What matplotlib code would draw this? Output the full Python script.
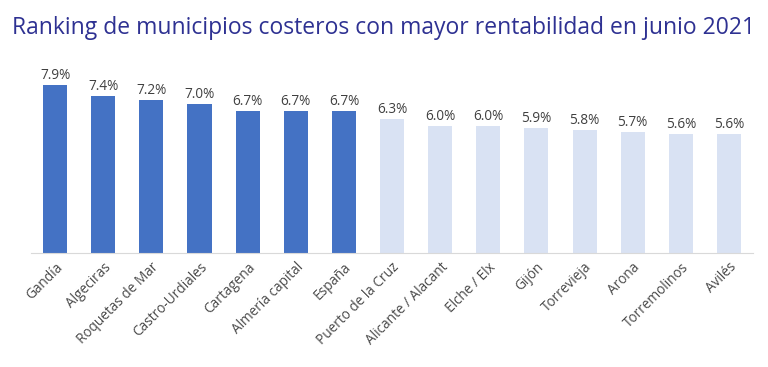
import matplotlib.pyplot as plt

municipios = ['Gandía', 'Algeciras', 'Roquetas de Mar', 'Castro-Urdiales', 'Cartagena',
              'Almería capital', 'España', 'Puerto de la Cruz', 'Alicante / Alacant',
              'Elche / Elx', 'Gijón', 'Torrevieja', 'Arona', 'Torremolinos', 'Avilés']
rentabilidad = [7.9, 7.4, 7.2, 7.0, 6.7, 6.7, 6.7, 6.3, 6.0, 6.0, 5.9, 5.8, 5.7, 5.6, 5.6]
destacado = [True] * 7 + [False] * 8

plt.rcParams['font.family'] = ['Open Sans', 'DejaVu Sans']

fig = plt.figure(figsize=(7.68, 3.67), dpi=100)
ax = fig.add_axes([0.0404, 0.3106, 0.9401, 0.5232])

colores = ['#4472C4' if d else '#D9E2F3' for d in destacado]
x = range(len(municipios))
bars = ax.bar(x, rentabilidad, width=0.5, color=colores)

for b, v in zip(bars, rentabilidad):
    ax.text(b.get_x() + b.get_width() / 2, v + 0.1, f'{v:.1f}%',
            ha='center', va='bottom', fontsize=9.8, color='#404040')

ax.set_xlim(-0.5, len(municipios) - 0.5)
ax.set_ylim(0, 9.05)
ax.set_xticks(list(x))
ax.set_xticklabels(municipios, rotation=45, ha='right', rotation_mode='anchor',
                   fontsize=9.8, color='#4a4a4a')
ax.tick_params(axis='x', length=0, pad=5)
ax.set_yticks([])
for s in ['top', 'right', 'left']:
    ax.spines[s].set_visible(False)
ax.spines['bottom'].set_color('#D9D9D9')

fig.text(0.5, 0.925, 'Ranking de municipios costeros con mayor rentabilidad en junio 2021',
         ha='center', va='center', fontsize=16.5, color='#2E3192')

fig.savefig('out.png', dpi=100)
